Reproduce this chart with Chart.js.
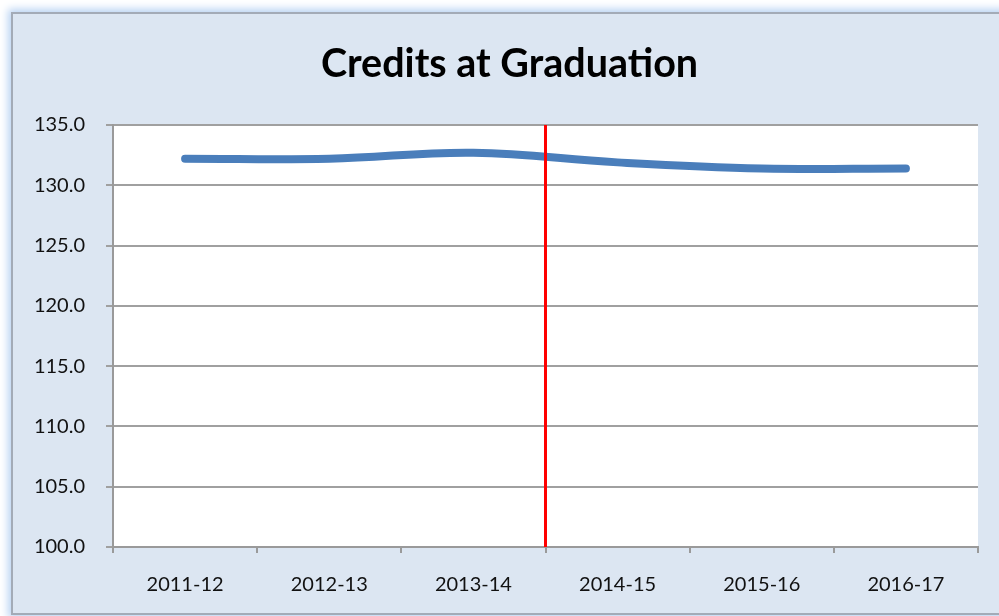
<!DOCTYPE html>
<html>
<head>
<meta charset="utf-8">
<script src="https://cdn.jsdelivr.net/npm/chart.js@4.4.1/dist/chart.umd.min.js"></script>
<style>
  html, body { margin: 0; padding: 0; background: #ffffff; }
  body { width: 999px; height: 616px; position: relative; overflow: hidden; }
  #frame {
    position: absolute; left: 11px; top: 12px; width: 1000px; height: 599px;
    background: #dce6f2; border: 2px solid #a3abb7;
    box-shadow: 0 0 8px 3px #b9d3f3;
  }
  #wrap { position: absolute; left: 0; top: 0; width: 999px; height: 616px; }
</style>
</head>
<body>
<div id="frame"></div>
<div id="wrap"><canvas id="c" width="999" height="616"></canvas></div>
<script>
const categories = ["2011-12", "2012-13", "2013-14", "2014-15", "2015-16", "2016-17"];
const creditsValues = [132.2, 132.2, 132.7, 131.9, 131.4, 131.4];
const yTicks = [100, 105, 110, 115, 120, 125, 130, 135];
const markerPosition = 2.5; // between 2013-14 and 2014-15
const chartTitle = "Credits at Graduation";

const plotBg = {
  id: 'plotBg',
  beforeDraw(chart) {
    const { ctx, chartArea: a } = chart;
    ctx.save();
    ctx.fillStyle = '#ffffff';
    ctx.fillRect(a.left, a.top, a.right - a.left, a.bottom - a.top);
    ctx.restore();
  }
};

// let the y-axis labels use the left padding area (avoid clipping)
const widenYLabelArea = {
  id: 'widenYLabelArea',
  afterLayout(chart) { chart.scales.y.left = 0; }
};

const redLine = {
  id: 'redLine',
  afterDatasetsDraw(chart) {
    const { ctx, chartArea: a, scales } = chart;
    const x = scales.x.getPixelForValue(markerPosition);
    ctx.save();
    ctx.strokeStyle = '#ff0000';
    ctx.lineWidth = 3;
    ctx.beginPath();
    ctx.moveTo(x, a.top);
    ctx.lineTo(x, a.bottom);
    ctx.stroke();
    ctx.restore();
  }
};

new Chart(document.getElementById('c'), {
  type: 'line',
  data: {
    labels: categories,
    datasets: [{
      data: creditsValues,
      borderColor: '#4a7ebb',
      borderWidth: 8,
      borderCapStyle: 'round',
      borderJoinStyle: 'round',
      tension: 0.4,
      pointRadius: 0,
      fill: false
    }]
  },
  options: {
    responsive: false,
    animation: false,
    layout: { padding: { left: 41, right: 21, top: 0, bottom: 0 } },
    plugins: {
      legend: { display: false },
      tooltip: { enabled: false },
      title: {
        display: true,
        text: chartTitle,
        color: '#000000',
        font: { family: 'Lato, "Open Sans", sans-serif', size: 39.5, weight: 'bold', lineHeight: 1.2 },
        padding: { top: 41, bottom: 36.6 }
      }
    },
    scales: {
      x: {
        type: 'category',
        offset: true,
        grid: { offset: true, drawOnChartArea: false, drawTicks: true, tickLength: 6, color: '#9a9a9a', lineWidth: 2 },
        border: { display: true, color: '#9a9a9a', width: 2 },
        ticks: { color: '#111111', padding: 20, font: { family: 'Lato, "Open Sans", sans-serif', size: 20 }, maxRotation: 0 },
        afterFit(scale) { scale.height = 69; }
      },
      y: {
        min: 100, max: 135,
        afterBuildTicks(scale) { scale.ticks = yTicks.map(v => ({ value: v })); },
        grid: { color: '#a0a0a0', lineWidth: 2, drawTicks: true, tickLength: 7 },
        border: { display: true, color: '#9a9a9a', width: 2 },
        ticks: {
          color: '#111111', padding: 21,
          font: { family: 'Lato, "Open Sans", sans-serif', size: 20 },
          callback: v => Number(v).toFixed(1)
        },
        afterFit(scale) { scale.width = 72; }
      }
    }
  },
  plugins: [plotBg, widenYLabelArea, redLine]
});
</script>
</body>
</html>
